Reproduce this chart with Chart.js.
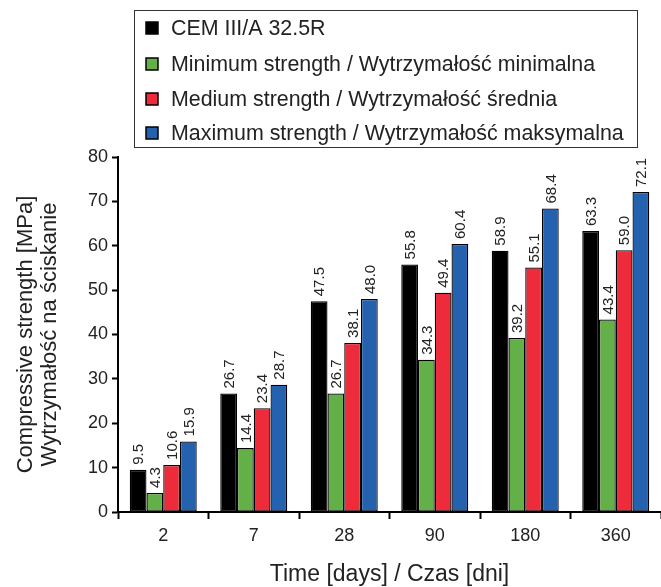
<!DOCTYPE html>
<html lang="en">
  <head>
    <meta charset="UTF-8" />
    <title>Compressive strength</title>
    <style>
      html,
      body {
        margin: 0;
        padding: 0;
        background: #fff;
      }
      #wrap {
        position: relative;
        width: 661px;
        height: 587px;
      }
    </style>
  </head>
  <body>
    <div id="wrap"><canvas id="chart"></canvas></div>

    <script src="https://cdn.jsdelivr.net/npm/chart.js"></script>
    <script>
      var days = ["2", "7", "28", "90", "180", "360"];
      var seriesNames = [
        "CEM III/A 32.5R",
        "Minimum strength / Wytrzymałość minimalna",
        "Medium strength / Wytrzymałość średnia",
        "Maximum strength / Wytrzymałość maksymalna",
      ];
      var cem = [9.5, 26.7, 47.5, 55.8, 58.9, 63.3];
      var minStrength = [4.3, 14.4, 26.7, 34.3, 39.2, 43.4];
      var medStrength = [10.6, 23.4, 38.1, 49.4, 55.1, 59.0];
      var maxStrength = [15.9, 28.7, 48.0, 60.4, 68.4, 72.1];
      var yTicks = [0, 10, 20, 30, 40, 50, 60, 70, 80];

      var colors = ["#000000", "#62b047", "#ee2b3b", "#2462af"];
      var FONT = '"Liberation Sans", Arial, sans-serif';

      // value labels above the bars, rotated, on a white patch
      var valueLabels = {
        id: "valueLabels",
        afterDatasetsDraw: function (chart) {
          var ctx = chart.ctx;
          ctx.save();
          ctx.font = "15px " + FONT;
          chart.data.datasets.forEach(function (ds, i) {
            chart.getDatasetMeta(i).data.forEach(function (bar, j) {
              var txt = ds.data[j].toFixed(1);
              var w = ctx.measureText(txt).width;
              ctx.save();
              ctx.translate(bar.x, bar.y - 2);
              ctx.rotate(-Math.PI / 2);
              ctx.fillStyle = "#fff";
              ctx.fillRect(0, -8, w + 4, 16);
              ctx.fillStyle = "#222";
              ctx.textBaseline = "middle";
              ctx.fillText(txt, 3, 1);
              ctx.restore();
            });
          });
          ctx.restore();
        },
      };

      // boxed legend, one entry per line
      var boxLegend = {
        id: "boxLegend",
        afterDraw: function (chart) {
          var ctx = chart.ctx;
          var rows = [28, 64, 99, 133];
          ctx.save();
          ctx.fillStyle = "#fff";
          ctx.fillRect(134, 10, 503, 137);
          ctx.strokeStyle = "#333";
          ctx.lineWidth = 1;
          ctx.strokeRect(134.5, 10.5, 503, 137);
          ctx.font = "21.4px " + FONT;
          ctx.textBaseline = "middle";
          seriesNames.forEach(function (name, i) {
            ctx.fillStyle = colors[i];
            ctx.fillRect(146, rows[i] - 6, 12, 12);
            ctx.strokeStyle = "#000";
            ctx.lineWidth = 1.5;
            ctx.strokeRect(146, rows[i] - 6, 12, 12);
            ctx.fillStyle = "#222";
            ctx.fillText(name, 171, rows[i] + 1);
          });
          ctx.restore();
        },
      };

      var datasets = [cem, minStrength, medStrength, maxStrength].map(
        function (vals, i) {
          return {
            label: seriesNames[i],
            data: vals,
            backgroundColor: colors[i],
            borderColor: "#000",
            borderWidth: 1.3,
            borderSkipped: false,
            barPercentage: 1.0,
            categoryPercentage: 0.74,
          };
        }
      );

      var ctx = document.getElementById("chart").getContext("2d");
      new Chart(ctx, {
        type: "bar",
        data: { labels: days, datasets: datasets },
        options: {
          responsive: true,
          maintainAspectRatio: false,
          animation: false,
          layout: { padding: { top: 157, right: 0, left: 0, bottom: 0 } },
          plugins: {
            legend: { display: false },
            tooltip: { enabled: false },
          },
          scales: {
            x: {
              offset: true,
              grid: {
                offset: true,
                drawOnChartArea: false,
                drawTicks: true,
                tickLength: 7,
                tickColor: "#000",
                tickWidth: 2,
              },
              border: { color: "#000", width: 2 },
              ticks: {
                color: "#222",
                font: { family: FONT, size: 18 },
                padding: 6,
              },
              title: {
                display: true,
                text: "Time [days] / Czas [dni]",
                color: "#222",
                font: { family: FONT, size: 23, lineHeight: 1.0 },
                padding: { top: 0, bottom: 0.5 },
              },
              afterFit: function (scale) {
                scale.height = 75;
              },
            },
            y: {
              min: 0,
              max: 80,
              afterBuildTicks: function (scale) {
                scale.ticks = yTicks.map(function (v) {
                  return { value: v };
                });
              },
              grid: {
                drawOnChartArea: false,
                drawTicks: true,
                tickLength: 6,
                tickColor: "#000",
                tickWidth: 2,
              },
              border: { color: "#000", width: 2 },
              ticks: {
                color: "#222",
                font: { family: FONT, size: 18 },
                padding: 4,
              },
              title: {
                display: true,
                text: ["Compressive strength [MPa]", "Wytrzymałość na ściskanie"],
                color: "#222",
                font: { family: FONT, size: 22, lineHeight: 1.09 },
                padding: { top: 14, bottom: 0 },
              },
              afterFit: function (scale) {
                scale.width = 118;
              },
            },
          },
        },
        plugins: [valueLabels, boxLegend],
      });
    </script>
  </body>
</html>
